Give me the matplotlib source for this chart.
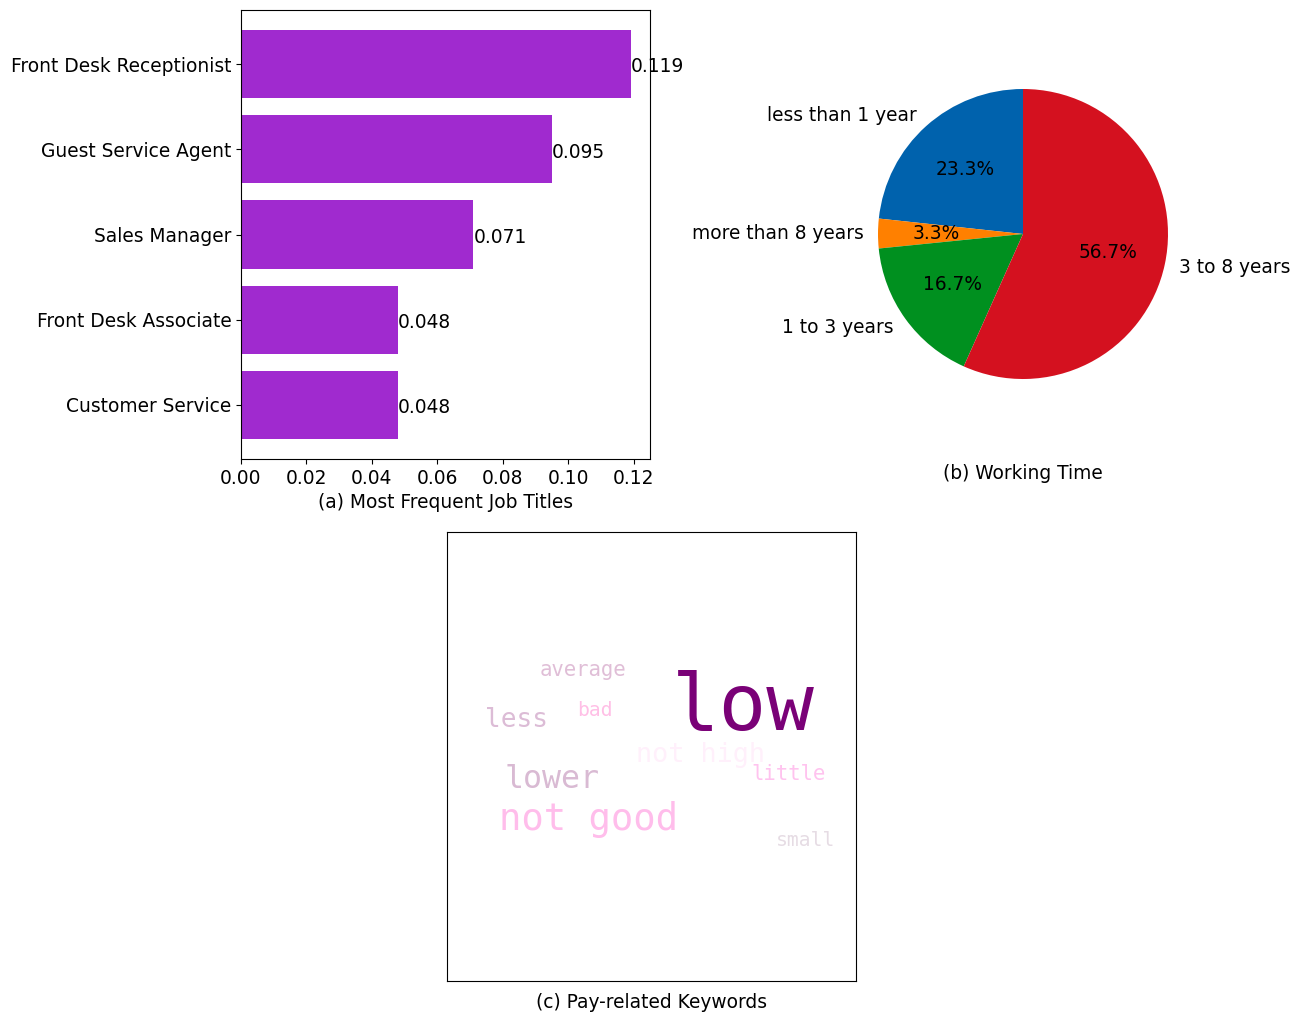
import numpy as np
import matplotlib.pyplot as plt

#%% DATA

job_titles = ['Front Desk Receptionist', 'Guest Service Agent', 'Sales Manager',
              'Front Desk Associate', 'Customer Service']
job_freq = [0.119, 0.095, 0.071, 0.048, 0.048]

time_labels = ['less than 1 year', 'more than 8 years', '1 to 3 years', '3 to 8 years']
time_share = [23.3, 3.3, 16.7, 56.7]

words = ['low', 'not good', 'lower', 'not high', 'less', 'average', 'little', 'bad', 'small']
word_weight = [1.0, 0.47, 0.40, 0.34, 0.33, 0.26, 0.26, 0.25, 0.25]

#%% STYLE / LAYOUT

bar_color = '#a02acf'
pie_colors = ['#0062ad', '#ff8000', '#00901f', '#d4111f']

# word cloud placement (axes fraction, centre x / baseline y) and colours
word_xy = [(0.725, 0.559), (0.345, 0.336), (0.258, 0.430), (0.619, 0.488),
           (0.169, 0.566), (0.333, 0.679), (0.835, 0.448), (0.362, 0.590),
           (0.877, 0.301)]
word_col = ['#7a0177', '#ffbdeb', '#d9bad3', '#fff0fb', '#dcbcd6', '#e0bed7',
            '#ffc3ef', '#ffbfe6', '#e6dce4']
max_size = 57

W, H = 1301, 1015
fig = plt.figure(figsize=(W/100, H/100), dpi=100)
fs = 13.4

#%% (a) BAR

ax1 = fig.add_axes([241/W, 1-459/H, 409/W, 449/H])
y = np.arange(len(job_titles))
ax1.barh(y, job_freq, color=bar_color, height=0.8)
ax1.set_yticks(y)
ax1.set_yticklabels(job_titles, fontsize=fs)
ax1.invert_yaxis()
ax1.tick_params(axis='x', labelsize=fs)
for yi, v in zip(y, job_freq):
    ax1.text(v, yi + 0.03, '%.3f' % v, va='center', ha='left', fontsize=fs)
ax1.set_xlabel('(a) Most Frequent Job Titles', fontsize=fs)

#%% (b) PIE

r = 145
cx, cy = 1023, 234
ax2 = fig.add_axes([(cx-1.25*r)/W, 1-(cy+1.25*r)/H, 2.5*r/W, 2.5*r/H])
ax2.pie(time_share, labels=time_labels, colors=pie_colors, startangle=90,
        autopct='%1.1f%%', textprops={'fontsize': fs})
ax2.set_aspect('equal')
fig.text(cx/W, 1-474/H, '(b) Working Time', ha='center', va='center', fontsize=fs)

#%% (c) WORD CLOUD

ax3 = fig.add_axes([447/W, 1-981/H, 409/W, 449/H])
ax3.set_xticks([])
ax3.set_yticks([])
for wd, wt, (x, yy), c in zip(words, word_weight, word_xy, word_col):
    ax3.text(x, yy, wd, transform=ax3.transAxes, ha='center', va='baseline',
             fontsize=wt*max_size, color=c, family='DejaVu Sans Mono')
ax3.set_xlabel('(c) Pay-related Keywords', fontsize=fs, labelpad=9)

plt.savefig('out.png', dpi=100)
